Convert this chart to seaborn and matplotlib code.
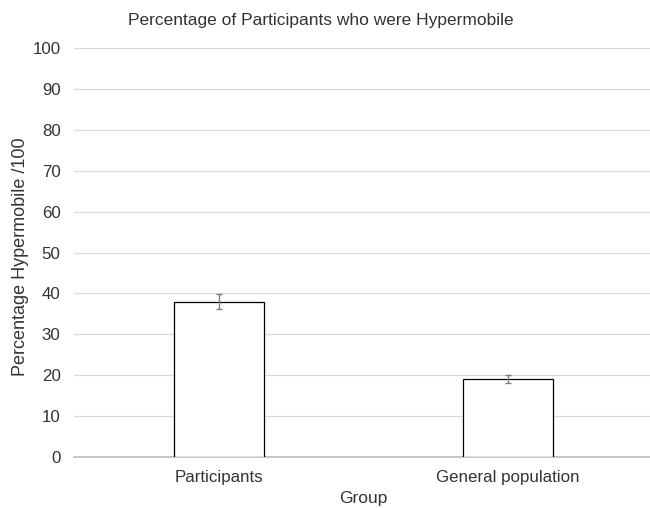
import matplotlib
matplotlib.use("Agg")
import matplotlib.pyplot as plt
import pandas as pd
import seaborn as sns

groups = ["Participants", "General population"]
percentages = [38, 19]
errors = [1.9, 1.0]

sns.set_theme(style="white")
plt.rcParams["font.family"] = ["Liberation Sans", "DejaVu Sans"]

text_color = "#333333"
df = pd.DataFrame({"Group": groups, "Percentage": percentages})

fig = plt.figure(figsize=(6.5, 5.08), dpi=100)
ax = fig.add_axes([0.1145, 0.1004, 0.889, 0.8051])

sns.barplot(data=df, x="Group", y="Percentage", ax=ax, color="white",
            edgecolor="black", linewidth=0.9, width=0.31, errorbar=None, zorder=3)
ax.errorbar(range(len(groups)), percentages, yerr=errors, fmt="none",
            ecolor="#7f7f7f", elinewidth=1, capsize=2.5, capthick=1, zorder=4)

ax.set_ylim(0, 100)
ax.set_yticks(range(0, 101, 10))
ax.set_xlim(-0.5, 1.5)
ax.grid(axis="y", color="#d9d9d9", linewidth=0.9, zorder=0)
for side in ["top", "right", "left"]:
    ax.spines[side].set_visible(False)
ax.spines["bottom"].set_color("#bfbfbf")
ax.tick_params(axis="both", labelsize=12.2, length=0)
ax.tick_params(axis="y", pad=10)
ax.tick_params(axis="x", pad=9.5)
for lab in ax.get_xticklabels() + ax.get_yticklabels():
    lab.set_color(text_color)

ax.set_xlabel("Group", fontsize=12.5, color=text_color)
ax.xaxis.set_label_coords(0.5, -0.083)
ax.set_ylabel("Percentage Hypermobile /100", fontsize=13, color=text_color)
ax.yaxis.set_label_coords(-0.078, 0.49)
fig.suptitle("Percentage of Participants who were Hypermobile", fontsize=12.5,
             color=text_color, x=0.494, y=0.975)

fig.savefig("out.png", dpi=100)
